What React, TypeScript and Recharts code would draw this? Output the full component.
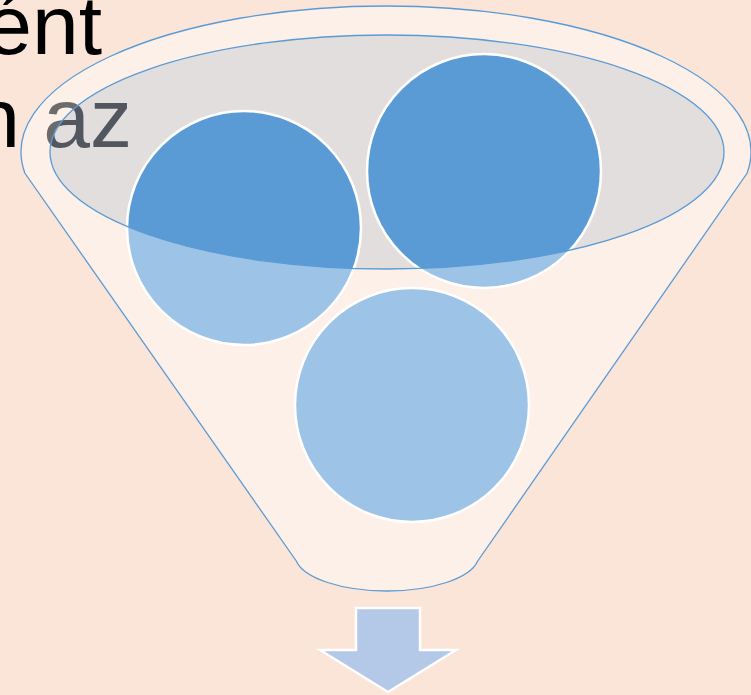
import { Scatter, ScatterChart, XAxis, YAxis } from "recharts"

// diagram units: one unit = one pixel of the 751x695 slide
const XMAX = 751
const YMAX = 695

const textLines = ["ént", "n az"]
const textRight = [102, 132]
const textBaseline = [54, 147]

const rimCenter = [{ x: 386, y: 152 }]
const rimRadii = [365, 146]
const rimCornerY = 173

const mouthCenter = [{ x: 387, y: 152 }]
const mouthRadii = [337, 117]

const neckCenter = [387, 555]
const neckRadii = [92, 36]
const neckCornerY = 561

const ballX = [244, 484, 412]
const ballY = [228, 171, 405]
const ballR = [117, 117, 117]

const arrowCenter = [{ x: 388, y: 650 }]
const arrowShaftTop = 608
const arrowTip = 692
const arrowShaftHalf = 32
const arrowHeadHalf = 68

const textData = textLines.map((label, i) => ({ x: textRight[i], y: textBaseline[i], label }))
const balls = ballX.map((x, i) => ({ x, y: ballY[i], r: ballR[i] }))

const W = 751
const H = 695
const k = W / XMAX

const BG = "#FAE5D8"
const LINE = "#5B9BD5"
const FONT = "'Liberation Sans', Arial, sans-serif"

function TextShape(p: any, fill: string, clip?: string) {
    return (
        <text
            x={p.cx}
            y={p.cy}
            textAnchor="end"
            fontFamily={FONT}
            fontSize={84}
            fill={fill}
            clipPath={clip}
        >
            {p.payload.label}
        </text>
    )
}

function FunnelShape(p: any) {
    const { cx, cy } = p
    const [rx, ry] = rimRadii
    const dy = (rimCornerY - rimCenter[0].y) / ry
    const ox = rx * Math.sqrt(1 - dy * dy) * k
    const ly = cy + (rimCornerY - rimCenter[0].y) * k
    const [nrx, nry] = neckRadii
    const ndy = (neckCornerY - neckCenter[1]) / nry
    const nox = nrx * Math.sqrt(1 - ndy * ndy) * k
    const ncx = cx + (neckCenter[0] - rimCenter[0].x) * k
    const ncy = cy + (neckCornerY - rimCenter[0].y) * k
    const d = [
        `M ${cx - ox} ${ly}`,
        `A ${rx * k} ${ry * k} 0 1 1 ${cx + ox} ${ly}`,
        `L ${ncx + nox} ${ncy}`,
        `A ${nrx * k} ${nry * k} 0 0 1 ${ncx - nox} ${ncy}`,
        "Z",
    ].join(" ")
    return <path d={d} fill="#FFFFFF" fillOpacity={0.42} stroke={LINE} strokeWidth={1.3} />
}

function MouthShape(p: any) {
    const [rx, ry] = mouthRadii
    return (
        <g>
            <defs>
                <clipPath id="mouth-clip">
                    <ellipse cx={p.cx} cy={p.cy} rx={rx * k} ry={ry * k} />
                </clipPath>
            </defs>
            <ellipse cx={p.cx} cy={p.cy} rx={rx * k} ry={ry * k} fill="#E3DEDE" />
        </g>
    )
}

function MouthLine(p: any) {
    const [rx, ry] = mouthRadii
    return <ellipse cx={p.cx} cy={p.cy} rx={rx * k} ry={ry * k} fill="none" stroke={LINE} strokeWidth={1.3} />
}

function BallShape(p: any) {
    const r = p.payload.r * k
    return (
        <g>
            <circle cx={p.cx} cy={p.cy} r={r} fill="#9DC3E6" />
            <circle cx={p.cx} cy={p.cy} r={r} fill="#5B9BD5" clipPath="url(#mouth-clip)" />
            <circle cx={p.cx} cy={p.cy} r={r} fill="none" stroke="#FFFFFF" strokeWidth={2.5} />
        </g>
    )
}

function ArrowShape(p: any) {
    const { cx, cy } = p
    const top = cy + (arrowShaftTop - arrowCenter[0].y) * k
    const tip = cy + (arrowTip - arrowCenter[0].y) * k
    const s = arrowShaftHalf * k
    const h = arrowHeadHalf * k
    const d = `M ${cx - s} ${top} L ${cx + s} ${top} L ${cx + s} ${cy} L ${cx + h} ${cy} L ${cx} ${tip} L ${cx - h} ${cy} L ${cx - s} ${cy} Z`
    return <path d={d} fill="#B4C8E8" stroke="#FFFFFF" strokeWidth={2.5} strokeLinejoin="miter" />
}

export default function App() {
    return (
        <div style={{ position: "absolute", left: 0, top: 0, width: W, height: H, background: BG, overflow: "hidden" }}>
            <ScatterChart width={W} height={H} margin={{ top: 0, right: 0, bottom: 0, left: 0 }}>
                <XAxis type="number" dataKey="x" domain={[0, XMAX]} allowDataOverflow hide />
                <YAxis type="number" dataKey="y" domain={[0, YMAX]} allowDataOverflow reversed hide />
                <Scatter data={textData} isAnimationActive={false} shape={(p: any) => TextShape(p, "#000000")} />
                <Scatter data={rimCenter} isAnimationActive={false} shape={FunnelShape} />
                <Scatter data={mouthCenter} isAnimationActive={false} shape={MouthShape} />
                <Scatter
                    data={textData}
                    isAnimationActive={false}
                    shape={(p: any) => TextShape(p, "#52565E", "url(#mouth-clip)")}
                />
                <Scatter data={balls} isAnimationActive={false} shape={BallShape} />
                <Scatter data={mouthCenter} isAnimationActive={false} shape={MouthLine} />
                <Scatter data={arrowCenter} isAnimationActive={false} shape={ArrowShape} />
            </ScatterChart>
        </div>
    )
}
